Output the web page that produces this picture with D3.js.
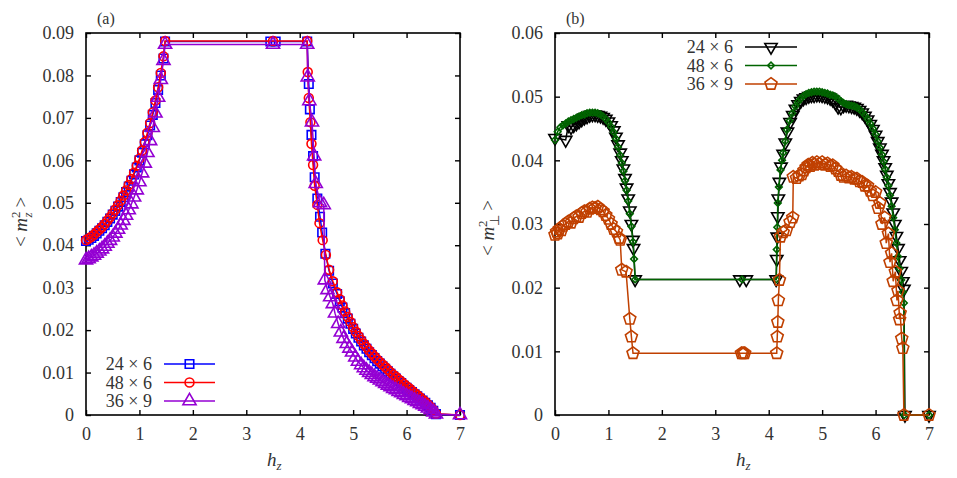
<!DOCTYPE html>
<html>
<head>
<meta charset="utf-8">
<script src="https://cdn.jsdelivr.net/npm/d3@7"></script>
<style>
  body { margin: 0; background: #fff; }
</style>
</head>
<body>
<svg id="chart" width="957" height="478"></svg>
<script>
const FONT = 'Liberation Serif';

// ---- tick values ----
const xTicks = [0, 1, 2, 3, 4, 5, 6, 7];
const yTicksA = [0, 0.01, 0.02, 0.03, 0.04, 0.05, 0.06, 0.07, 0.08, 0.09];
const yTicksB = [0, 0.01, 0.02, 0.03, 0.04, 0.05, 0.06];

// ---- legend labels ----
const labelsA = ['24 \u00d7 6', '48 \u00d7 6', '36 \u00d7 9'];
const labelsB = ['24 \u00d7 6', '48 \u00d7 6', '36 \u00d7 9'];

// ---- panel (a): <m_z^2> vs h_z, pairs [h, value] ----
const mz24x6 = [
  [0.00, 0.0410], [0.05, 0.0413], [0.10, 0.0417], [0.15, 0.0422], [0.20, 0.0428], [0.25, 0.0434],
  [0.30, 0.0440], [0.35, 0.0447], [0.40, 0.0455], [0.45, 0.0463], [0.50, 0.0472], [0.55, 0.0481],
  [0.60, 0.0491], [0.65, 0.0502], [0.70, 0.0513], [0.75, 0.0525], [0.80, 0.0538], [0.85, 0.0552],
  [0.90, 0.0567], [0.95, 0.0583], [1.00, 0.0600], [1.05, 0.0618], [1.10, 0.0638], [1.15, 0.0659],
  [1.20, 0.0682], [1.25, 0.0707], [1.30, 0.0735], [1.35, 0.0766], [1.40, 0.0800], [1.45, 0.0840],
  [1.48, 0.0880], [3.45, 0.0880], [3.55, 0.0880], [4.14, 0.0880],
  [4.17, 0.0780], [4.19, 0.0720], [4.22, 0.0660], [4.25, 0.0610], [4.28, 0.0560], [4.33, 0.0510],
  [4.38, 0.0467], [4.42, 0.0430], [4.48, 0.0380], [4.55, 0.0340], [4.62, 0.0310], [4.70, 0.0285],
  [4.75, 0.0268], [4.80, 0.0253], [4.85, 0.0240], [4.90, 0.0227], [4.95, 0.0215], [5.00, 0.0203],
  [5.05, 0.0192], [5.10, 0.0182], [5.15, 0.0173], [5.20, 0.0164], [5.25, 0.0156], [5.30, 0.0148],
  [5.35, 0.0141], [5.40, 0.0134], [5.45, 0.0127], [5.50, 0.0121], [5.55, 0.0115], [5.60, 0.0109],
  [5.65, 0.0103], [5.70, 0.0097], [5.75, 0.0091], [5.80, 0.0086], [5.85, 0.0080], [5.90, 0.0075],
  [5.95, 0.0069], [6.00, 0.0064], [6.05, 0.0059], [6.10, 0.0054], [6.15, 0.0049], [6.20, 0.0044],
  [6.25, 0.0039], [6.30, 0.0034], [6.35, 0.0029], [6.40, 0.0023], [6.45, 0.0017], [6.50, 0.0010],
  [6.55, 0.0002], [7.00, 0.0000]
];
const mz48x6 = [
  [0.00, 0.0412], [0.05, 0.0416], [0.10, 0.0420], [0.15, 0.0425], [0.20, 0.0431], [0.25, 0.0437],
  [0.30, 0.0443], [0.35, 0.0450], [0.40, 0.0458], [0.45, 0.0466], [0.50, 0.0475], [0.55, 0.0484],
  [0.60, 0.0494], [0.65, 0.0505], [0.70, 0.0517], [0.75, 0.0529], [0.80, 0.0542], [0.85, 0.0556],
  [0.90, 0.0571], [0.95, 0.0587], [1.00, 0.0604], [1.05, 0.0623], [1.10, 0.0643], [1.15, 0.0665],
  [1.20, 0.0688], [1.25, 0.0713], [1.30, 0.0741], [1.35, 0.0772], [1.40, 0.0806], [1.45, 0.0845],
  [1.48, 0.0881], [3.50, 0.0881], [4.14, 0.0881],
  [4.15, 0.0808], [4.17, 0.0747], [4.20, 0.0690], [4.22, 0.0639], [4.25, 0.0589], [4.28, 0.0540],
  [4.33, 0.0495], [4.37, 0.0452], [4.43, 0.0412], [4.49, 0.0377], [4.55, 0.0342], [4.62, 0.0315],
  [4.70, 0.0289], [4.75, 0.0273], [4.80, 0.0258], [4.85, 0.0244], [4.90, 0.0231], [4.95, 0.0219],
  [5.00, 0.0207], [5.05, 0.0196], [5.10, 0.0186], [5.15, 0.0177], [5.20, 0.0168], [5.25, 0.0160],
  [5.30, 0.0152], [5.35, 0.0145], [5.40, 0.0138], [5.45, 0.0131], [5.50, 0.0125], [5.55, 0.0119],
  [5.60, 0.0113], [5.65, 0.0107], [5.70, 0.0101], [5.75, 0.0095], [5.80, 0.0090], [5.85, 0.0084],
  [5.90, 0.0079], [5.95, 0.0073], [6.00, 0.0068], [6.05, 0.0063], [6.10, 0.0057], [6.15, 0.0052],
  [6.20, 0.0047], [6.25, 0.0042], [6.30, 0.0036], [6.35, 0.0031], [6.40, 0.0025], [6.45, 0.0019],
  [6.50, 0.0012], [6.55, 0.0003], [7.00, 0.0000]
];
const mz36x9 = [
  [0.00, 0.0365], [0.05, 0.0368], [0.10, 0.0372], [0.15, 0.0376], [0.20, 0.0381], [0.25, 0.0386],
  [0.30, 0.0391], [0.35, 0.0397], [0.40, 0.0404], [0.45, 0.0411], [0.50, 0.0419], [0.55, 0.0428],
  [0.60, 0.0437], [0.65, 0.0447], [0.70, 0.0458], [0.75, 0.0470], [0.80, 0.0483], [0.85, 0.0497],
  [0.90, 0.0513], [0.95, 0.0530], [1.00, 0.0549], [1.05, 0.0570], [1.10, 0.0593], [1.15, 0.0618],
  [1.20, 0.0646], [1.25, 0.0677], [1.30, 0.0711], [1.35, 0.0748], [1.40, 0.0790], [1.45, 0.0835],
  [1.48, 0.0873], [3.50, 0.0873], [4.14, 0.0873],
  [4.15, 0.0796], [4.18, 0.0740], [4.23, 0.0690], [4.27, 0.0610], [4.30, 0.0545], [4.38, 0.0500],
  [4.45, 0.0495], [4.47, 0.0318], [4.52, 0.0295], [4.57, 0.0278], [4.62, 0.0262], [4.66, 0.0240],
  [4.72, 0.0215], [4.77, 0.0195], [4.82, 0.0180], [4.88, 0.0168], [4.93, 0.0157], [4.98, 0.0148],
  [5.04, 0.0136], [5.09, 0.0126], [5.15, 0.0118], [5.20, 0.0111], [5.25, 0.0105], [5.30, 0.0100],
  [5.35, 0.0095], [5.40, 0.0090], [5.45, 0.0086], [5.50, 0.0082], [5.55, 0.0078], [5.60, 0.0074],
  [5.65, 0.0070], [5.70, 0.0066], [5.75, 0.0062], [5.80, 0.0059], [5.85, 0.0055], [5.90, 0.0052],
  [5.95, 0.0048], [6.00, 0.0045], [6.05, 0.0041], [6.10, 0.0038], [6.15, 0.0034], [6.20, 0.0031],
  [6.25, 0.0027], [6.30, 0.0024], [6.35, 0.0020], [6.40, 0.0016], [6.45, 0.0012], [6.50, 0.0007],
  [6.55, 0.0002], [7.00, 0.0000]
];

// ---- panel (b): <m_perp^2> vs h_z ----
const mp24x6 = [
  [0.00, 0.0435], [0.20, 0.0432], [0.25, 0.0455], [0.30, 0.0452], [0.35, 0.0455], [0.40, 0.0458],
  [0.45, 0.0461], [0.50, 0.0464], [0.55, 0.0467], [0.60, 0.0469], [0.65, 0.0471], [0.70, 0.0472],
  [0.75, 0.0472], [0.80, 0.0471], [0.85, 0.0470], [0.90, 0.0468], [0.95, 0.0465], [1.00, 0.0461],
  [1.05, 0.0455], [1.10, 0.0447], [1.14, 0.0437], [1.18, 0.0425], [1.22, 0.0412], [1.25, 0.0400],
  [1.28, 0.0387], [1.31, 0.0372], [1.34, 0.0357], [1.37, 0.0340], [1.40, 0.0321], [1.43, 0.0300],
  [1.46, 0.0275], [1.47, 0.0262], [1.50, 0.0213], [3.46, 0.0213], [3.58, 0.0213], [4.14, 0.0213],
  [4.15, 0.0245], [4.16, 0.0280], [4.17, 0.0312], [4.18, 0.0340], [4.20, 0.0366], [4.23, 0.0390],
  [4.27, 0.0410], [4.31, 0.0428], [4.35, 0.0445], [4.40, 0.0460], [4.45, 0.0471], [4.50, 0.0481],
  [4.55, 0.0488], [4.60, 0.0493], [4.65, 0.0497], [4.70, 0.0499], [4.75, 0.0501], [4.80, 0.0502],
  [4.85, 0.0502], [4.90, 0.0503], [4.95, 0.0503], [5.00, 0.0502], [5.05, 0.0501], [5.10, 0.0500],
  [5.15, 0.0498], [5.20, 0.0495], [5.25, 0.0490], [5.30, 0.0484], [5.35, 0.0483], [5.40, 0.0486],
  [5.45, 0.0487], [5.50, 0.0486], [5.55, 0.0485], [5.60, 0.0484], [5.65, 0.0482], [5.70, 0.0479],
  [5.75, 0.0475], [5.80, 0.0470], [5.85, 0.0464], [5.90, 0.0457], [5.95, 0.0449], [6.00, 0.0440],
  [6.04, 0.0430], [6.08, 0.0420], [6.12, 0.0410], [6.15, 0.0400], [6.18, 0.0389], [6.21, 0.0377],
  [6.24, 0.0364], [6.27, 0.0350], [6.30, 0.0335], [6.33, 0.0318], [6.36, 0.0300], [6.39, 0.0281],
  [6.42, 0.0262], [6.45, 0.0243], [6.48, 0.0226], [6.51, 0.0210], [6.53, 0.0198], [6.55, 0.0000],
  [7.00, 0.0000]
];
const mp48x6 = [
  [0.00, 0.0432], [0.05, 0.0445], [0.10, 0.0452], [0.15, 0.0455], [0.20, 0.0458], [0.25, 0.0461],
  [0.30, 0.0463], [0.35, 0.0465], [0.40, 0.0467], [0.45, 0.0469], [0.50, 0.0471], [0.55, 0.0472],
  [0.60, 0.0474], [0.65, 0.0475], [0.70, 0.0475], [0.75, 0.0475], [0.80, 0.0474], [0.85, 0.0472],
  [0.90, 0.0469], [0.95, 0.0465], [1.00, 0.0460], [1.05, 0.0453], [1.10, 0.0444], [1.14, 0.0434],
  [1.18, 0.0421], [1.22, 0.0408], [1.25, 0.0396], [1.28, 0.0383], [1.31, 0.0368], [1.34, 0.0353],
  [1.37, 0.0336], [1.40, 0.0316], [1.43, 0.0296], [1.46, 0.0272], [1.48, 0.0245], [1.50, 0.0213],
  [3.50, 0.0213], [4.14, 0.0213],
  [4.15, 0.0260], [4.16, 0.0295], [4.17, 0.0333], [4.19, 0.0358], [4.22, 0.0385], [4.25, 0.0400],
  [4.27, 0.0412], [4.31, 0.0430], [4.34, 0.0448], [4.39, 0.0462], [4.44, 0.0474], [4.50, 0.0485],
  [4.55, 0.0492], [4.60, 0.0497], [4.65, 0.0501], [4.70, 0.0504], [4.75, 0.0506], [4.80, 0.0507],
  [4.85, 0.0508], [4.90, 0.0508], [4.95, 0.0508], [5.00, 0.0507], [5.05, 0.0506], [5.10, 0.0505],
  [5.15, 0.0503], [5.20, 0.0502], [5.25, 0.0500], [5.30, 0.0497], [5.35, 0.0493], [5.40, 0.0490],
  [5.45, 0.0488], [5.50, 0.0487], [5.55, 0.0486], [5.60, 0.0485], [5.65, 0.0483], [5.70, 0.0480],
  [5.75, 0.0476], [5.80, 0.0471], [5.85, 0.0465], [5.90, 0.0458], [5.95, 0.0450], [6.00, 0.0441],
  [6.04, 0.0430], [6.08, 0.0420], [6.12, 0.0409], [6.15, 0.0398], [6.18, 0.0386], [6.21, 0.0373],
  [6.24, 0.0360], [6.27, 0.0345], [6.30, 0.0328], [6.33, 0.0310], [6.36, 0.0291], [6.39, 0.0270],
  [6.42, 0.0249], [6.45, 0.0230], [6.48, 0.0212], [6.51, 0.0193], [6.53, 0.0176], [6.54, 0.0000],
  [7.00, 0.0000]
];
const mp36x9 = [
  [0.00, 0.0283], [0.03, 0.0288], [0.05, 0.0285], [0.08, 0.0292], [0.12, 0.0290], [0.15, 0.0297],
  [0.20, 0.0300], [0.25, 0.0304], [0.30, 0.0302], [0.35, 0.0309], [0.40, 0.0312], [0.45, 0.0311],
  [0.50, 0.0317], [0.55, 0.0320], [0.60, 0.0319], [0.65, 0.0324], [0.70, 0.0326], [0.75, 0.0325],
  [0.80, 0.0327], [0.85, 0.0323], [0.90, 0.0320], [0.95, 0.0314], [1.00, 0.0308], [1.05, 0.0300],
  [1.10, 0.0292], [1.15, 0.0288], [1.20, 0.0278], [1.22, 0.0275], [1.25, 0.0228], [1.33, 0.0225],
  [1.40, 0.0151], [1.43, 0.0123], [1.46, 0.0097], [3.49, 0.0097], [3.52, 0.0097], [3.55, 0.0097],
  [4.15, 0.0097], [4.16, 0.0123], [4.17, 0.0146], [4.18, 0.0180], [4.20, 0.0212], [4.22, 0.0280],
  [4.27, 0.0287], [4.33, 0.0290], [4.40, 0.0303], [4.45, 0.0310], [4.46, 0.0374], [4.52, 0.0372],
  [4.57, 0.0376], [4.62, 0.0378], [4.66, 0.0384], [4.70, 0.0389], [4.74, 0.0393], [4.78, 0.0391],
  [4.82, 0.0396], [4.86, 0.0393], [4.90, 0.0397], [4.95, 0.0394], [5.00, 0.0397], [5.05, 0.0393],
  [5.10, 0.0395], [5.15, 0.0391], [5.20, 0.0392], [5.25, 0.0387], [5.30, 0.0383], [5.35, 0.0377],
  [5.40, 0.0374], [5.45, 0.0376], [5.50, 0.0373], [5.55, 0.0374], [5.60, 0.0371], [5.65, 0.0371],
  [5.70, 0.0367], [5.75, 0.0366], [5.80, 0.0360], [5.85, 0.0360], [5.90, 0.0352], [5.95, 0.0345],
  [6.00, 0.0350], [6.05, 0.0325], [6.08, 0.0333], [6.12, 0.0300], [6.17, 0.0310], [6.20, 0.0270],
  [6.24, 0.0285], [6.27, 0.0240], [6.30, 0.0254], [6.33, 0.0210], [6.37, 0.0225], [6.40, 0.0180],
  [6.42, 0.0195], [6.45, 0.0150], [6.46, 0.0160], [6.49, 0.0120], [6.51, 0.0105], [6.53, 0.0000],
  [7.00, 0.0000]
];

// pentagon marker for d3.symbol
const symbolPentagon = {
  draw(context, size) {
    const r = Math.sqrt(size / (2.5 * Math.sin(2 * Math.PI / 5)));
    for (let i = 0; i < 5; i++) {
      const a = -Math.PI / 2 + i * 2 * Math.PI / 5;
      if (i === 0) context.moveTo(r * Math.cos(a), r * Math.sin(a));
      else context.lineTo(r * Math.cos(a), r * Math.sin(a));
    }
    context.closePath();
  }
};

const svg = d3.select('#chart');

const panels = [
  {
    tag: '(a)', tagX: 97,
    x: d3.scaleLinear().domain([0, 7]).range([86, 460]),
    y: d3.scaleLinear().domain([0, 0.09]).range([415, 33]),
    yTicks: yTicksA,
    yTitle: 'z', yTitleX: 27, yTitleY: 222,
    series: [
      { data: mz24x6, color: '#0000ff', symbol: d3.symbolSquare, size: 72, rotate: 0 },
      { data: mz48x6, color: '#ff0000', symbol: d3.symbolCircle, size: 62, rotate: 0 },
      { data: mz36x9, color: '#9400d3', symbol: d3.symbolTriangle, size: 75, rotate: 0 }
    ],
    labels: labelsA,
    legend: { textRight: 152, x1: 164, x2: 215, y0: 364, dy: 18.5 }
  },
  {
    tag: '(b)', tagX: 566,
    x: d3.scaleLinear().domain([0, 7]).range([555, 929]),
    y: d3.scaleLinear().domain([0, 0.06]).range([415, 33]),
    yTicks: yTicksB,
    yTitle: '\u22a5', yTitleX: 494, yTitleY: 228,
    series: [
      { data: mp24x6, color: '#000000', symbol: d3.symbolTriangle, size: 66, rotate: 180 },
      { data: mp48x6, color: '#006400', symbol: d3.symbolSquare, size: 22, rotate: 45 },
      { data: mp36x9, color: '#c04000', symbol: symbolPentagon, size: 95, rotate: 0 }
    ],
    labels: labelsB,
    legend: { textRight: 733, x1: 745, x2: 797, y0: 47, dy: 18.5 }
  }
];

panels.forEach(p => {
  const g = svg.append('g');
  const [x0, x1] = p.x.range();
  const [yb, yt] = p.y.range();

  // frame
  g.append('rect')
    .attr('x', x0).attr('y', yt)
    .attr('width', x1 - x0).attr('height', yb - yt)
    .attr('fill', 'none').attr('stroke', '#000').attr('stroke-width', 1.6);

  // axes with inward ticks on all sides
  const bottom = g.append('g').attr('transform', `translate(0,${yb})`)
    .call(d3.axisBottom(p.x).tickValues(xTicks).tickSizeInner(-5).tickSizeOuter(0).tickPadding(12).tickFormat(d3.format('d')));
  const top = g.append('g').attr('transform', `translate(0,${yt})`)
    .call(d3.axisTop(p.x).tickValues(xTicks).tickSizeInner(-5).tickSizeOuter(0).tickFormat(''));
  const left = g.append('g').attr('transform', `translate(${x0},0)`)
    .call(d3.axisLeft(p.y).tickValues(p.yTicks).tickSizeInner(-5).tickSizeOuter(0).tickPadding(12)
      .tickFormat(d => d === 0 ? '0' : d.toFixed(2)));
  const right = g.append('g').attr('transform', `translate(${x1},0)`)
    .call(d3.axisRight(p.y).tickValues(p.yTicks).tickSizeInner(-5).tickSizeOuter(0).tickFormat(''));
  [bottom, top, left, right].forEach(a => {
    a.select('.domain').remove();
    a.selectAll('line').attr('stroke', '#000').attr('stroke-width', 1.4);
    a.selectAll('text').style('font-family', FONT)
      .style('font-size', '18px').attr('fill', '#333');
  });

  // panel tag
  g.append('text').attr('x', p.tagX).attr('y', 24)
    .style('font-family', FONT).style('font-size', '16px').attr('fill', '#333').text(p.tag);

  // x title h_z
  const xt = g.append('text')
    .attr('x', (x0 + x1) / 2 - 6).attr('y', 466)
    .style('font-family', FONT).style('font-size', '19px').attr('fill', '#333');
  xt.append('tspan').style('font-style', 'italic').text('h');
  xt.append('tspan').style('font-size', '13px').attr('dy', 4).style('font-style', 'italic').text('z');

  // y title < m_sub^2 >
  const yt2 = g.append('text')
    .attr('transform', `translate(${p.yTitleX},${p.yTitleY}) rotate(-90)`)
    .attr('text-anchor', 'middle')
    .style('font-family', FONT).style('font-size', '19px').attr('fill', '#333');
  yt2.append('tspan').text('< ');
  yt2.append('tspan').style('font-style', 'italic').text('m');
  yt2.append('tspan').style('font-size', '13px').attr('dy', -7).text('2');
  yt2.append('tspan').style('font-size', '13px').attr('dx', -6).attr('dy', 12)
    .style('font-style', p.yTitle === 'z' ? 'italic' : 'normal').text(p.yTitle);
  yt2.append('tspan').attr('dy', -5).text(' >');

  // series
  const line = d3.line().x(d => p.x(d[0])).y(d => p.y(d[1]));
  p.series.forEach(s => {
    g.append('path').datum(s.data)
      .attr('d', line)
      .attr('fill', 'none').attr('stroke', s.color).attr('stroke-width', 1.5);
    g.append('g').selectAll('path').data(s.data).join('path')
      .attr('d', d3.symbol(s.symbol, s.size))
      .attr('transform', d => `translate(${p.x(d[0])},${p.y(d[1])}) rotate(${s.rotate})`)
      .attr('fill', 'none').attr('stroke', s.color).attr('stroke-width', 1.6);
  });

  // legend
  const L = p.legend;
  p.series.forEach((s, i) => {
    const yy = L.y0 + i * L.dy;
    g.append('text').attr('x', L.textRight).attr('y', yy).attr('dy', '0.35em')
      .attr('text-anchor', 'end')
      .style('font-family', FONT).style('font-size', '18px').attr('fill', '#333')
      .text(p.labels[i]);
    g.append('line').attr('x1', L.x1).attr('x2', L.x2).attr('y1', yy).attr('y2', yy)
      .attr('stroke', s.color).attr('stroke-width', 1.5);
    g.append('path')
      .attr('d', d3.symbol(s.symbol, s.size))
      .attr('transform', `translate(${(L.x1 + L.x2) / 2},${yy}) rotate(${s.rotate})`)
      .attr('fill', 'none').attr('stroke', s.color).attr('stroke-width', 1.6);
  });
});
</script>
</body>
</html>
